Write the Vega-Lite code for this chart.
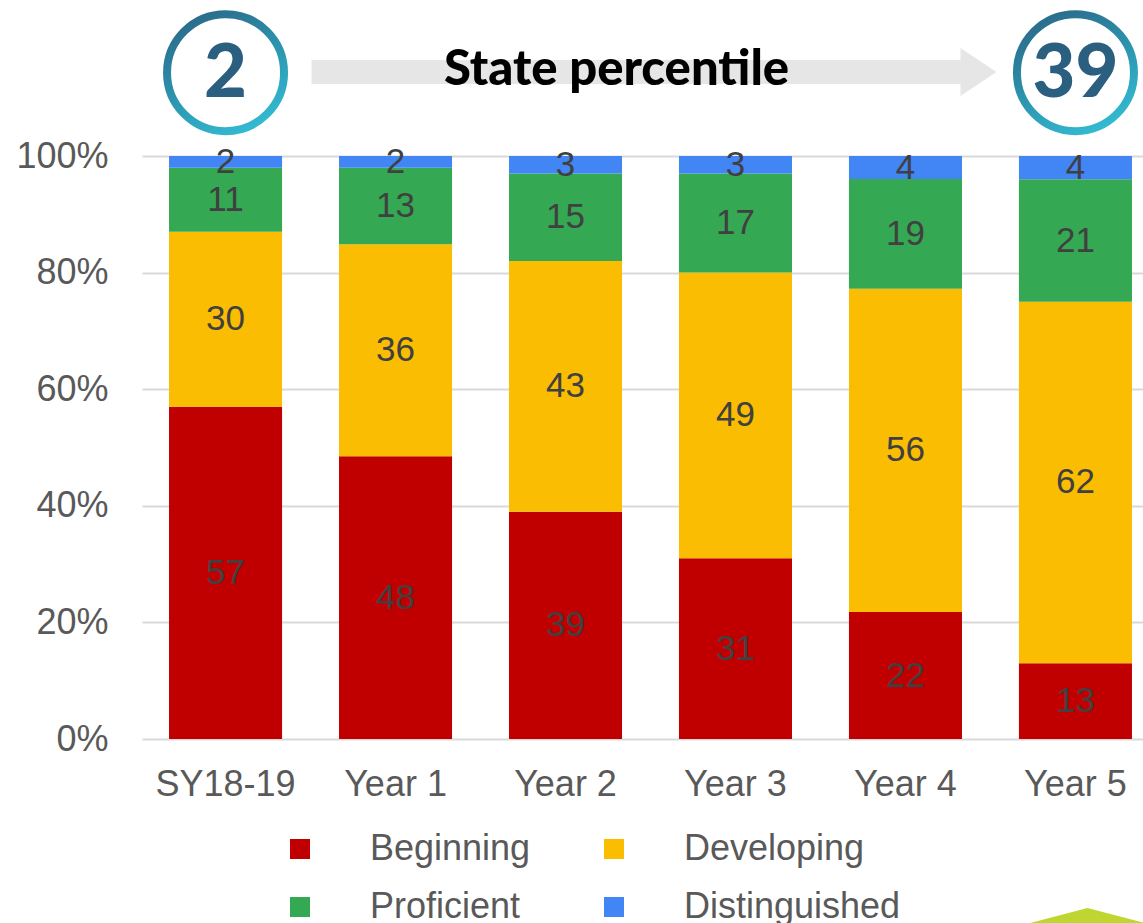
{
  "$schema": "https://vega.github.io/schema/vega-lite/v6.json",
  "width": 1001,
  "height": 583,
  "autosize": {"type": "none"},
  "padding": {"left": 142, "top": 156, "right": 0, "bottom": 184},
  "background": "white",
  "config": {
    "view": {"stroke": null},
    "font": "Liberation Sans"
  },
  "layer": [
    {
      "data": {
        "values": [
          {"year": "SY18-19", "level": "Beginning", "rank": 1, "value": 57},
          {"year": "SY18-19", "level": "Developing", "rank": 2, "value": 30},
          {"year": "SY18-19", "level": "Proficient", "rank": 3, "value": 11},
          {"year": "SY18-19", "level": "Distinguished", "rank": 4, "value": 2},
          {"year": "Year 1", "level": "Beginning", "rank": 1, "value": 48},
          {"year": "Year 1", "level": "Developing", "rank": 2, "value": 36},
          {"year": "Year 1", "level": "Proficient", "rank": 3, "value": 13},
          {"year": "Year 1", "level": "Distinguished", "rank": 4, "value": 2},
          {"year": "Year 2", "level": "Beginning", "rank": 1, "value": 39},
          {"year": "Year 2", "level": "Developing", "rank": 2, "value": 43},
          {"year": "Year 2", "level": "Proficient", "rank": 3, "value": 15},
          {"year": "Year 2", "level": "Distinguished", "rank": 4, "value": 3},
          {"year": "Year 3", "level": "Beginning", "rank": 1, "value": 31},
          {"year": "Year 3", "level": "Developing", "rank": 2, "value": 49},
          {"year": "Year 3", "level": "Proficient", "rank": 3, "value": 17},
          {"year": "Year 3", "level": "Distinguished", "rank": 4, "value": 3},
          {"year": "Year 4", "level": "Beginning", "rank": 1, "value": 22},
          {"year": "Year 4", "level": "Developing", "rank": 2, "value": 56},
          {"year": "Year 4", "level": "Proficient", "rank": 3, "value": 19},
          {"year": "Year 4", "level": "Distinguished", "rank": 4, "value": 4},
          {"year": "Year 5", "level": "Beginning", "rank": 1, "value": 13},
          {"year": "Year 5", "level": "Developing", "rank": 2, "value": 62},
          {"year": "Year 5", "level": "Proficient", "rank": 3, "value": 21},
          {"year": "Year 5", "level": "Distinguished", "rank": 4, "value": 4}
        ]
      },
      "transform": [
        {"stack": "value", "groupby": ["year"], "sort": [{"field": "rank", "order": "ascending"}], "offset": "normalize", "as": ["y0", "y1"]},
        {"calculate": "(datum.y0 + datum.y1) / 2", "as": "ymid"}
      ],
      "layer": [
        {
          "mark": {"type": "bar"},
          "encoding": {
            "x": {
              "field": "year", "type": "nominal",
              "scale": {"domain": ["SY18-19", "Year 1", "Year 2", "Year 3", "Year 4", "Year 5"], "range": [0, 1017], "paddingInner": 0.335, "paddingOuter": 0.159},
              "axis": {"title": null, "labelAngle": 0, "domain": false, "ticks": false, "labelFontSize": 36, "labelColor": "#595959", "labelPadding": 28, "labelFont": "Liberation Sans"}
            },
            "y": {
              "field": "y0", "type": "quantitative",
              "scale": {"domain": [0, 1], "nice": false},
              "axis": {"title": null, "format": "%", "values": [0, 0.2, 0.4, 0.6, 0.8, 1], "domain": false, "ticks": false, "labelFontSize": 36, "labelColor": "#595959", "labelPadding": 34, "gridColor": "#d9d9d9", "gridWidth": 2, "labelFont": "Liberation Sans"}
            },
            "y2": {"field": "y1"},
            "color": {
              "field": "level", "type": "nominal",
              "scale": {"domain": ["Beginning", "Developing", "Proficient", "Distinguished"], "range": ["#c00000", "#fabd02", "#34a853", "#4285f4"]},
              "legend": {
                "title": null, "orient": "none", "legendX": 140, "legendY": 675,
                "direction": "horizontal", "columns": 2, "padding": 0,
                "symbolType": "square", "symbolSize": 400, "symbolStrokeWidth": 0,
                "labelFontSize": 36, "labelColor": "#595959", "labelOffset": 52, "labelFont": "Liberation Sans", "labelLimit": 0,
                "columnPadding": 65, "rowPadding": 22
              }
            }
          }
        },
        {
          "mark": {"type": "text", "fontSize": 35, "color": "#404040", "baseline": "middle", "font": "Liberation Sans"},
          "encoding": {
            "x": {"field": "year", "type": "nominal"},
            "y": {"field": "ymid", "type": "quantitative"},
            "text": {"field": "value", "type": "quantitative"}
          }
        }
      ]
    },
    {
      "data": {"values": [{"from": "SY18-19", "to": "Year 5", "pos": 1.144}]},
      "mark": {"type": "rule", "color": "#e6e6e6", "strokeWidth": 24, "strokeCap": "butt", "xOffset": 86, "x2Offset": -114},
      "encoding": {
        "x": {"field": "from", "type": "nominal"},
        "x2": {"field": "to"},
        "y": {"field": "pos", "type": "quantitative"}
      }
    },
    {
      "data": {"values": [{"at": "Year 5", "pos": 1.144}]},
      "mark": {"type": "point", "shape": "M0,-1L1.5,0L0,1Z", "size": 2304, "filled": true, "color": "#e6e6e6", "opacity": 1, "strokeWidth": 0, "xOffset": -115},
      "encoding": {
        "x": {"field": "at", "type": "nominal"},
        "y": {"field": "pos", "type": "quantitative"}
      }
    },
    {
      "data": {"values": [{"at": "Year 2", "label": "State percentile", "pos": 1.122}]},
      "mark": {"type": "text", "font": "Lato", "fontWeight": 900, "fontSize": 49, "color": "#000000", "align": "center", "baseline": "alphabetic", "xOffset": 51},
      "encoding": {
        "x": {"field": "at", "type": "nominal"},
        "y": {"field": "pos", "type": "quantitative"},
        "text": {"field": "label", "type": "nominal"}
      }
    },
    {
      "data": {"values": [{"at": "SY18-19", "num": "2", "pos": 1.143}, {"at": "Year 5", "num": "39", "pos": 1.143}]},
      "layer": [
        {
          "mark": {
            "type": "point", "shape": "circle", "size": 13689, "filled": false, "opacity": 1, "strokeWidth": 8,
            "stroke": {"gradient": "linear", "x1": 0.25, "y1": 0, "x2": 0.75, "y2": 1, "stops": [{"offset": 0, "color": "#2b6b8b"}, {"offset": 0.5, "color": "#2c94ae"}, {"offset": 1, "color": "#33bcd3"}]}
          },
          "encoding": {
            "x": {"field": "at", "type": "nominal"},
            "y": {"field": "pos", "type": "quantitative"}
          }
        },
        {
          "mark": {"type": "text", "font": "Lato", "fontWeight": 900, "fontSize": 74, "color": "#2b5f7f", "align": "center", "baseline": "middle", "dy": 2},
          "encoding": {
            "x": {"field": "at", "type": "nominal"},
            "y": {"field": "pos", "type": "quantitative"},
            "text": {"field": "num", "type": "nominal"}
          }
        }
      ]
    },
    {
      "data": {"values": [{"at": "Year 5", "pos": -0.335}]},
      "mark": {"type": "point", "shape": "M0,-0.264L1,0L-1,0Z", "size": 40000, "filled": true, "color": "#bfd630", "opacity": 1, "strokeWidth": 0, "xOffset": 12},
      "encoding": {
        "x": {"field": "at", "type": "nominal"},
        "y": {"field": "pos", "type": "quantitative"}
      }
    }
  ]
}
